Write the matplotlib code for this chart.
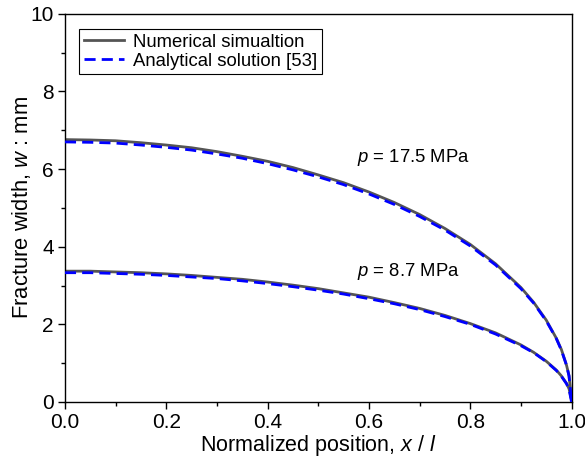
import numpy as np
import matplotlib
matplotlib.use("Agg")
import matplotlib.pyplot as plt
from matplotlib.ticker import MultipleLocator

plt.rcParams['font.family'] = ['Liberation Sans', 'DejaVu Sans']
plt.rcParams['mathtext.fontset'] = 'custom'
plt.rcParams['mathtext.rm'] = 'Liberation Sans'
plt.rcParams['mathtext.it'] = 'Liberation Sans:italic'

# normalized position x / l
x_pos = [0.0, 0.05, 0.1, 0.15, 0.2, 0.25, 0.3, 0.35, 0.4, 0.45, 0.5, 0.55, 0.6,
         0.65, 0.7, 0.75, 0.8, 0.85, 0.9, 0.925, 0.95, 0.97, 0.98, 0.99, 0.995, 1.0]

# fracture width (mm), p = 17.5 MPa
num_high = [6.76, 6.75, 6.73, 6.68, 6.62, 6.55, 6.45, 6.33, 6.20, 6.04, 5.85, 5.65, 5.41,
            5.14, 4.83, 4.47, 4.06, 3.56, 2.95, 2.57, 2.11, 1.64, 1.35, 0.95, 0.68, 0.08]
ana_high = [6.70, 6.69, 6.67, 6.62, 6.56, 6.49, 6.39, 6.28, 6.14, 5.98, 5.80, 5.60, 5.36,
            5.09, 4.78, 4.43, 4.02, 3.53, 2.92, 2.55, 2.09, 1.63, 1.33, 0.95, 0.67, 0.0]

# fracture width (mm), p = 8.7 MPa
num_low = [3.37, 3.37, 3.35, 3.33, 3.30, 3.26, 3.21, 3.16, 3.09, 3.01, 2.92, 2.81, 2.70,
           2.56, 2.41, 2.23, 2.02, 1.78, 1.47, 1.28, 1.05, 0.82, 0.67, 0.48, 0.34, 0.05]
ana_low = [3.33, 3.33, 3.31, 3.29, 3.26, 3.22, 3.18, 3.12, 3.05, 2.97, 2.88, 2.78, 2.66,
           2.53, 2.38, 2.20, 2.00, 1.75, 1.45, 1.27, 1.04, 0.81, 0.66, 0.47, 0.33, 0.0]

fig = plt.figure(figsize=(5.85, 4.62), dpi=100)
ax = fig.add_axes([0.111, 0.130, 0.866, 0.840])

grey = '#555555'
blue = '#0000ff'
ax.plot(x_pos, num_high, color=grey, lw=2, label='Numerical simualtion', zorder=2)
ax.plot(x_pos, ana_high, color=blue, lw=2, ls=(0, (4, 2.2)), label='Analytical solution [53]', zorder=3)
ax.plot(x_pos, num_low, color=grey, lw=2, zorder=2)
ax.plot(x_pos, ana_low, color=blue, lw=2, ls=(0, (4, 2.2)), zorder=3)

ax.text(0.576, 6.29, '$\\it{p}$ = 17.5 MPa', fontsize=13.3, va='center')
ax.text(0.576, 3.35, '$\\it{p}$ = 8.7 MPa', fontsize=13.3, va='center')

ax.set_xlim(0, 1)
ax.set_ylim(0, 10)
ax.xaxis.set_major_locator(MultipleLocator(0.2))
ax.xaxis.set_minor_locator(MultipleLocator(0.1))
ax.yaxis.set_major_locator(MultipleLocator(2))
ax.yaxis.set_minor_locator(MultipleLocator(1))
ax.xaxis.set_major_formatter(plt.FormatStrFormatter('%.1f'))
ax.tick_params(which='major', direction='out', length=5, width=1, labelsize=15, pad=3)
ax.tick_params(which='minor', direction='out', length=3, width=1)
for s in ax.spines.values():
    s.set_linewidth(1)

ax.set_xlabel('Normalized position, $\\it{x}$ / $\\it{l}$', fontsize=15.5, labelpad=1)
ax.set_ylabel('Fracture width, $\\it{w}$ : mm', fontsize=15.8, labelpad=-2)

leg = ax.legend(loc='upper left', fontsize=13.3, fancybox=False, edgecolor='black',
                framealpha=1, handlelength=2.2, borderpad=0.25, labelspacing=0.12,
                handletextpad=0.45, bbox_to_anchor=(0.01, 0.985))
leg.get_frame().set_linewidth(0.8)

fig.savefig('out.png', dpi=100)
